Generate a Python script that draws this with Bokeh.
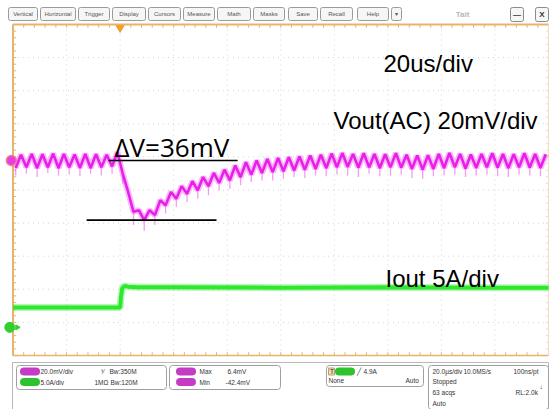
from bokeh.plotting import figure
from bokeh.models import Range1d, Label
from bokeh.core.properties import value
from bokeh.embed import file_html
from bokeh.resources import INLINE

# ---------------- data ----------------
# graticule: 10 horizontal divisions of 20 us, 10 vertical divisions
time_div_us = [-40, -20, 0, 20, 40, 60, 80, 100, 120, 140, 160]
vert_div = [-5, -4, -3, -2, -1, 0, 1, 2, 3, 4, 5]

# CH1  Vout(AC), 20 mV/div : ripple peaks / troughs every 2 us
ch1_t_us = list(range(-39, 160, 2))
ch1_mv = [-4.5, 3.5, -4, 4, -4.5, 3.8, -4, 4.2, -4.5, 4,
          -4, 3.6, -4.3, 4, -4.5, 3.8, -4, 3.5, -3.5, 5,
          -8, -19, -31, -30, -36, -30, -33, -24, -27, -19,
          -23, -15.5, -20, -12.5, -18, -10, -15.5, -7.5, -13.5, -5.5,
          -12, -3, -10, -1, -8.5, 0, -7.5, 1, -7, 1.5,
          -6.5, 2, -6, 2.5, -5.5, 3, -5, 3.5, -4.5, 4.2,
          -4, 4.5, -3.8, 4, -4.2, 4.4, -4, 4, -4.5, 3.8,
          -4, 4.5, -4.2, 3.5, -5, 3, -5.5, 3.2, -5, 4,
          -4.5, 4.6, -4, 4, -4.8, 3.6, -4.4, 4, -4, 4.4,
          -4.2, 4, -4.6, 3.8, -4, 4.4, -4.2, 4, -4.4, 3.8]
# noise spikes below each ripple trough
ch1_spike_t_us = list(range(-39, 160, 4))
ch1_spike_mv = [-9, -8, -10, -7.5, -9, -8.5, -9.5, -8, -9, -8,
                -14, -39, -42.4, -39, -32, -28, -25, -23, -21, -18,
                -17, -15, -13, -12, -12, -11, -10, -10.5, -9, -9.5,
                -8.5, -9, -10, -8, -9.5, -9, -8.5, -10.5, -11, -9.5,
                -9, -8.5, -10, -9, -8.5, -9.5, -10, -8.5, -9, -9.5]

# CH4  Iout, 5 A/div : load step 3 A -> 6 A
ch4_t_us = [-40, -20, 0, 0.3, 0.8, 1.6, 3, 6, 20, 60, 100, 140, 160]
ch4_a = [3.0, 3.0, 3.0, 4.5, 5.9, 6.25, 6.15, 6.05, 6.05, 6.0, 6.05, 6.0, 6.0]

# delta-V cursor annotation
dv_top_mv, dv_bot_mv = 0.0, -36.0
dv_label = "ΔV=36mV"

CH1_SCALE, CH1_POS = 20.0, 0.89     # mV/div, div offset
CH4_SCALE, CH4_POS = 5.0, -4.15     # A/div, div offset

menu_labels = ["Vertical", "Horizontal", "Trigger", "Display", "Cursors", "Measure",
               "Math", "Masks", "Save", "Recall", "Help", "▾"]
menu_edges = [(8, 37), (40, 75), (78, 109), (112, 145), (148, 180), (183, 214),
              (217, 250), (253, 284), (288, 317), (320, 352), (357, 388), (391, 401)]

# ---------------- figure / layout ----------------
W, H = 550, 409
GX0, GX1 = 12.5, 548.0     # graticule left/right (px)
GY0, GY1 = 24.0, 355.0     # graticule top/bottom (px)

p = figure(width=W, height=H, x_range=Range1d(0, W), y_range=Range1d(H, 0),
           x_axis_type=None, y_axis_type=None, toolbar_location=None,
           output_backend="svg", min_border=0, outline_line_color=None,
           background_fill_color="white", border_fill_color="white")

T0, T1 = time_div_us[0], time_div_us[-1]
ppu = (GX1 - GX0) / (T1 - T0)
ppd = (GY1 - GY0) / (len(vert_div) - 1)
div_top = vert_div[-1] + GY0 / ppd
div_bot = vert_div[0] - (H - GY1) / ppd
p.extra_x_ranges = {"t": Range1d(T0 - GX0 / ppu, T0 + (W - GX0) / ppu)}
p.extra_y_ranges = {
    "div": Range1d(div_bot, div_top),
    "ch1": Range1d((div_bot - CH1_POS) * CH1_SCALE, (div_top - CH1_POS) * CH1_SCALE),
    "ch4": Range1d((div_bot - CH4_POS) * CH4_SCALE, (div_top - CH4_POS) * CH4_SCALE),
}

ORANGE = "#e8b46c"
MAG = "#ea1eea"
GRN = "#2ee82e"

# graticule dotted grid
inner_t = time_div_us[1:-1]
inner_v = vert_div[1:-1]
p.segment(x0=inner_t, y0=[vert_div[0]] * len(inner_t), x1=inner_t, y1=[vert_div[-1]] * len(inner_t),
          x_range_name="t", y_range_name="div", line_color="#d4d4d4", line_dash="1 4", line_width=1)
p.segment(x0=[T0] * len(inner_v), y0=inner_v, x1=[T1] * len(inner_v), y1=inner_v,
          x_range_name="t", y_range_name="div", line_color="#d4d4d4", line_dash="1 4", line_width=1)

# border ticks
minor_t = [T0 + i * (time_div_us[1] - T0) / 5 for i in range(5 * (len(time_div_us) - 1) + 1)]
minor_v = [vert_div[0] + i * 0.2 for i in range(5 * (len(vert_div) - 1) + 1)]
tl = 0.1
p.segment(x0=minor_t, y0=[vert_div[-1]] * len(minor_t), x1=minor_t, y1=[vert_div[-1] - tl] * len(minor_t),
          x_range_name="t", y_range_name="div", line_color=ORANGE, line_width=1)
p.segment(x0=minor_t, y0=[vert_div[0]] * len(minor_t), x1=minor_t, y1=[vert_div[0] + tl] * len(minor_t),
          x_range_name="t", y_range_name="div", line_color=ORANGE, line_width=1)
p.segment(x0=[T0] * len(minor_v), y0=minor_v, x1=[T0 + 1.2] * len(minor_v), y1=minor_v,
          x_range_name="t", y_range_name="div", line_color=ORANGE, line_width=1)
p.segment(x0=[T1] * len(minor_v), y0=minor_v, x1=[T1 - 1.0] * len(minor_v), y1=minor_v,
          x_range_name="t", y_range_name="div", line_color="#f3dcc0", line_width=1)
# border lines
p.line([T0, T1], [vert_div[-1], vert_div[-1]], x_range_name="t", y_range_name="div", line_color=ORANGE, line_width=2)
p.line([T0, T0], [vert_div[0], vert_div[-1]], x_range_name="t", y_range_name="div", line_color=ORANGE, line_width=2)
p.line([T0, T1], [vert_div[0], vert_div[0]], x_range_name="t", y_range_name="div", line_color=ORANGE, line_width=1.5)
p.line([T1, T1], [vert_div[0], vert_div[-1]], x_range_name="t", y_range_name="div", line_color="#f3dcc0", line_width=1)

# trigger position marker
p.scatter([0], [vert_div[-1] - 0.1], x_range_name="t", y_range_name="div", marker="inverted_triangle",
          size=8, fill_color="#f0a030", line_color="#f0a030")

# CH4 current trace
p.line(ch4_t_us, ch4_a, x_range_name="t", y_range_name="ch4", line_color=GRN, line_width=7, line_alpha=0.35)
p.line(ch4_t_us, ch4_a, x_range_name="t", y_range_name="ch4", line_color=GRN, line_width=4)

# CH1 voltage trace
troughs = ch1_mv[0::2]
p.segment(x0=ch1_spike_t_us, y0=troughs, x1=ch1_spike_t_us, y1=ch1_spike_mv,
          x_range_name="t", y_range_name="ch1", line_color="#f070f0", line_width=1.3, line_alpha=0.7)
p.line(ch1_t_us, ch1_mv, x_range_name="t", y_range_name="ch1", line_color=MAG, line_width=6, line_alpha=0.3)
p.line(ch1_t_us, ch1_mv, x_range_name="t", y_range_name="ch1", line_color=MAG, line_width=2.6)

# ground markers
p.scatter([T0 - 0.6], [0], x_range_name="t", y_range_name="ch1", marker="circle", size=10,
          fill_color="#e83ce8", line_color="#f08080", line_width=1.5)
p.scatter([T0 - 1.2], [0], x_range_name="t", y_range_name="ch4", marker="circle", size=10,
          fill_color="#30d030", line_color="#30d030")
p.scatter([T0 + 1.6], [0], x_range_name="t", y_range_name="ch4", marker="triangle", angle=-1.5708,
          size=5, fill_color="#30d030", line_color="#30d030")

# delta-V cursor lines + label
p.line([-4.3, 43.9], [dv_top_mv, dv_top_mv], x_range_name="t", y_range_name="ch1", line_color="black", line_width=1.6)
p.line([-12.5, 36.0], [dv_bot_mv, dv_bot_mv], x_range_name="t", y_range_name="ch1", line_color="black", line_width=1.6)
p.add_layout(Label(x=-2.1, y=7.9, x_range_name="t", y_range_name="ch1", text=dv_label,
                   text_font="Open Sans", text_font_size="26px", text_color="black",
                   text_baseline="alphabetic"))

# scale labels
for (tx, ty, tt) in [(383, 63, "20us/div"), (333, 120, "Vout(AC) 20mV/div"), (385, 278, "Iout 5A/div")]:
    p.add_layout(Label(x=tx, y=ty, text=tt, text_font="Liberation Sans", text_font_size="24px",
                       text_color="black", text_baseline="alphabetic"))

# ---------------- menu bar ----------------
p.quad(left=[a for a, b in menu_edges], right=[b for a, b in menu_edges], top=[7] * len(menu_edges),
       bottom=[20] * len(menu_edges), fill_color="#f6f6f6", line_color="#9a9a9a", line_width=1, border_radius=2)
p.text(x=[(a + b) / 2 for a, b in menu_edges], y=[13.5] * len(menu_edges), text=menu_labels,
       text_font=value("Liberation Sans"), text_font_size="6px", text_color="#555555",
       text_align="center", text_baseline="middle")
p.quad(left=[510, 535], right=[523, 548], top=[7, 7], bottom=[21, 21], fill_color="#f6f6f6",
       line_color="#8a8a8a", border_radius=2)
p.text(x=[516.5, 541.5, 462], y=[14, 14, 14], text=["—", "X", "Tait"], text_font=value("Liberation Sans"),
       text_font_size=value("8px"), text_color=["#333333", "#333333", "#b8b8b8"],
       text_align="center", text_baseline="middle", text_font_style="bold")

# ---------------- readout panel ----------------
p.quad(left=[12], right=[548], top=[362], bottom=[409], fill_color="white", line_color="#b8b8b8", line_width=1)
p.quad(left=[16, 169, 326, 428], right=[166, 280, 423, 548], top=[365, 365, 365, 365],
       bottom=[389, 389, 386, 409], fill_color="white", line_color="#a0a0a0", line_width=1, border_radius=3)
pill_l = [20, 20, 176, 176, 335]
pill_y = [371, 381.5, 371, 381.5, 371]
pill_c = ["#c43cc4", "#2ec22e", "#c43cc4", "#c43cc4", "#2ec22e"]
p.quad(left=pill_l, right=[v + 19 for v in pill_l], top=[v - 3.5 for v in pill_y], bottom=[v + 3.5 for v in pill_y],
       fill_color=pill_c, line_color=pill_c, border_radius=3)
p.quad(left=[328], right=[334], top=[367.5], bottom=[374.5], fill_color="#f0d8b0", line_color="#c0a070")
ro_x = [40, 100, 109, 40, 94, 110, 199, 227, 199, 225, 329.5, 356, 363, 328, 405,
        432, 463, 513, 432, 432, 515, 432, 539]
ro_y = [371, 371, 371, 381.5, 381.5, 381.5, 371, 371, 381.5, 381.5, 371, 371, 371, 380, 380,
        371, 371, 371, 381, 392, 392, 402.5, 386]
ro_t = ["20.0mV/div", "⅟", "Bw:350M", "5.0A/div", "1MΩ", "Bw:120M", "Max", "6.4mV", "Min", "-42.4mV",
        "T", "╱", "4.9A", "None", "Auto",
        "20.0µs/div", "10.0MS/s", "100ns/pt", "Stopped", "63 acqs", "RL:2.0k", "Auto", "↓"]
p.text(x=ro_x, y=ro_y, text=ro_t, text_font=value("Liberation Sans"), text_font_size="6.5px",
       text_color="#333333", text_baseline="middle")

open("out.html", "w").write(file_html(p, INLINE))
